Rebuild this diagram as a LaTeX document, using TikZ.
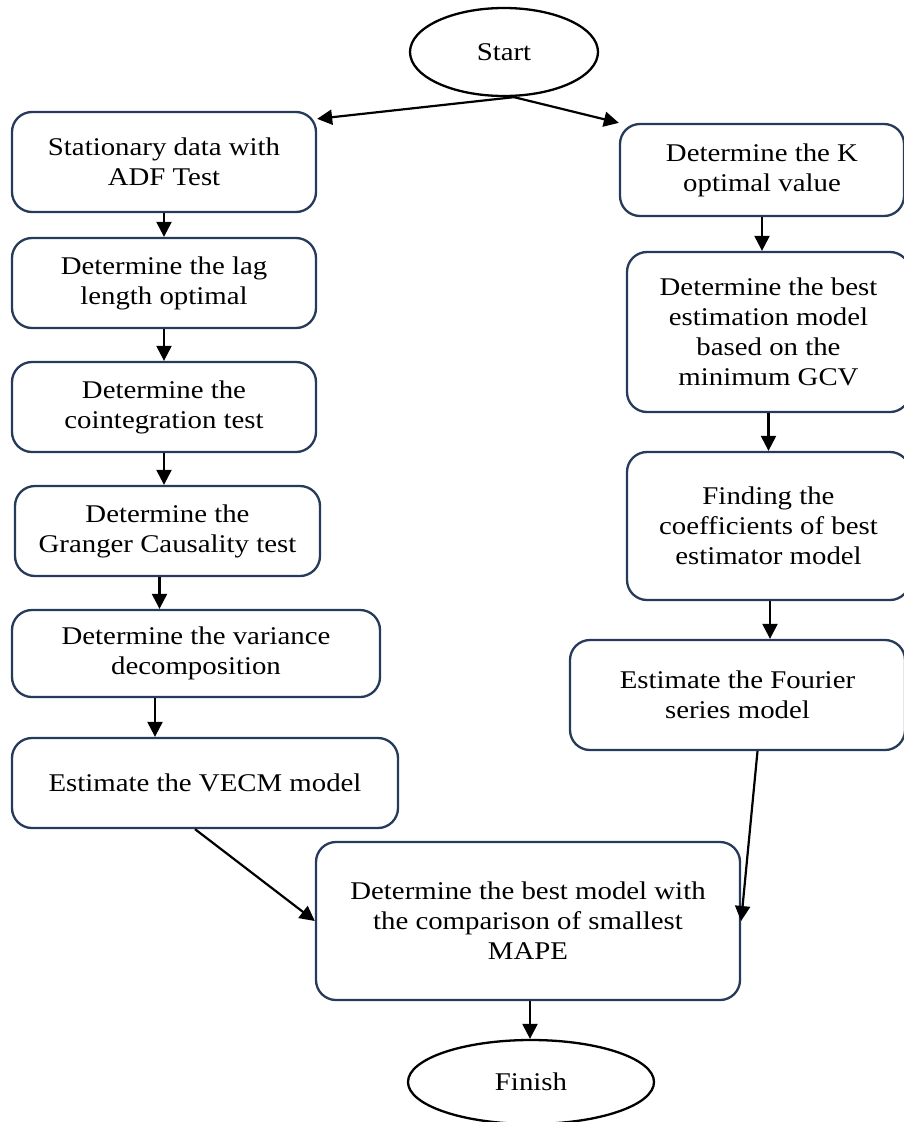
\documentclass[tikz,border=0pt]{standalone}
\usepackage{fontspec}
\setmainfont{Liberation Serif}[FakeStretch=1.13]
\usetikzlibrary{arrows.meta,shapes.geometric}
\definecolor{boxc}{RGB}{38,58,90}
\tikzset{
  stepbox/.style={draw=boxc,line width=2.3pt,rounded corners=20pt,align=center,
    inner sep=0pt,font=\fontsize{25.5}{30}\selectfont},
  term/.style={draw=black,line width=2.3pt,ellipse,inner sep=0pt,font=\fontsize{25.5}{30}\selectfont},
  arr/.style={line width=2.2pt,-{Triangle[length=15pt,width=15pt]}}
}
\begin{document}
\begin{tikzpicture}[x=1pt,y=-1pt]
\clip (0,0) rectangle (904,1122);
\fill[white] (0,0) rectangle (904,1122);
\node[term,minimum width=188pt,minimum height=88pt] (start) at (504,52) {Start};
\node[stepbox,minimum width=304pt,minimum height=100pt] (b1) at (164,162) {Stationary data with\\ADF Test};
\node[stepbox,minimum width=304pt,minimum height=90pt] (b2) at (164,283) {Determine the lag\\length optimal};
\node[stepbox,minimum width=304pt,minimum height=90pt] (b3) at (164,407) {Determine the\\cointegration test};
\node[stepbox,minimum width=305pt,minimum height=90pt] (b4) at (167.5,531) {Determine the\\Granger Causality test};
\node[stepbox,minimum width=368pt,minimum height=87pt] (b5) at (196,653.5) {Determine the variance\\decomposition};
\node[stepbox,minimum width=386pt,minimum height=90pt] (b6) at (205,783) {Estimate the VECM model};
\node[stepbox,minimum width=284pt,minimum height=92pt] (r1) at (762,170) {Determine the K\\optimal value};
\node[stepbox,minimum width=283pt,minimum height=160pt] (r2) at (768.5,332) {Determine the best\\estimation model\\based on the\\minimum GCV};
\node[stepbox,minimum width=283pt,minimum height=148pt] (r3) at (768.5,526) {Finding the\\coefficients of best\\estimator model};
\node[stepbox,minimum width=335pt,minimum height=110pt] (r4) at (737.5,695) {Estimate the Fourier\\series model};
\node[stepbox,minimum width=424pt,minimum height=158pt] (fin) at (528,921) {Determine the best model with\\the comparison of smallest\\MAPE};
\node[term,minimum width=246pt,minimum height=84pt] (finish) at (531,1082) {Finish};
\draw[arr] ([xshift=10pt]start.south) -- ([yshift=-8pt]b1.north east);
\draw[arr] ([xshift=10pt]start.south) -- (r1.north west);
\draw[arr] (b1.south) -- (b2.north);
\draw[arr] (b2.south) -- (b3.north);
\draw[arr] (b3.south) -- (b3.south |- b4.north);
\draw[arr] ([xshift=-8pt]b4.south) -- ([xshift=-8pt]b4.south |- b5.north);
\draw[arr] ([xshift=-41pt]b5.south) -- ([xshift=-41pt]b5.south |- b6.north);
\draw[arr] (r1.south) -- (r1.south |- r2.north);
\draw[arr] (r2.south) -- (r2.south |- r3.north);
\draw[arr] ([xshift=1.5pt]r3.south) -- ([xshift=1.5pt]r3.south |- r4.north);
\draw[arr] ([xshift=-10pt]b6.south) -- (fin.west);
\draw[arr] ([xshift=20pt]r4.south) -- (fin.east);
\draw[arr] ([xshift=2pt]fin.south) -- ([xshift=2pt]fin.south |- finish.north);
\end{tikzpicture}
\end{document}
